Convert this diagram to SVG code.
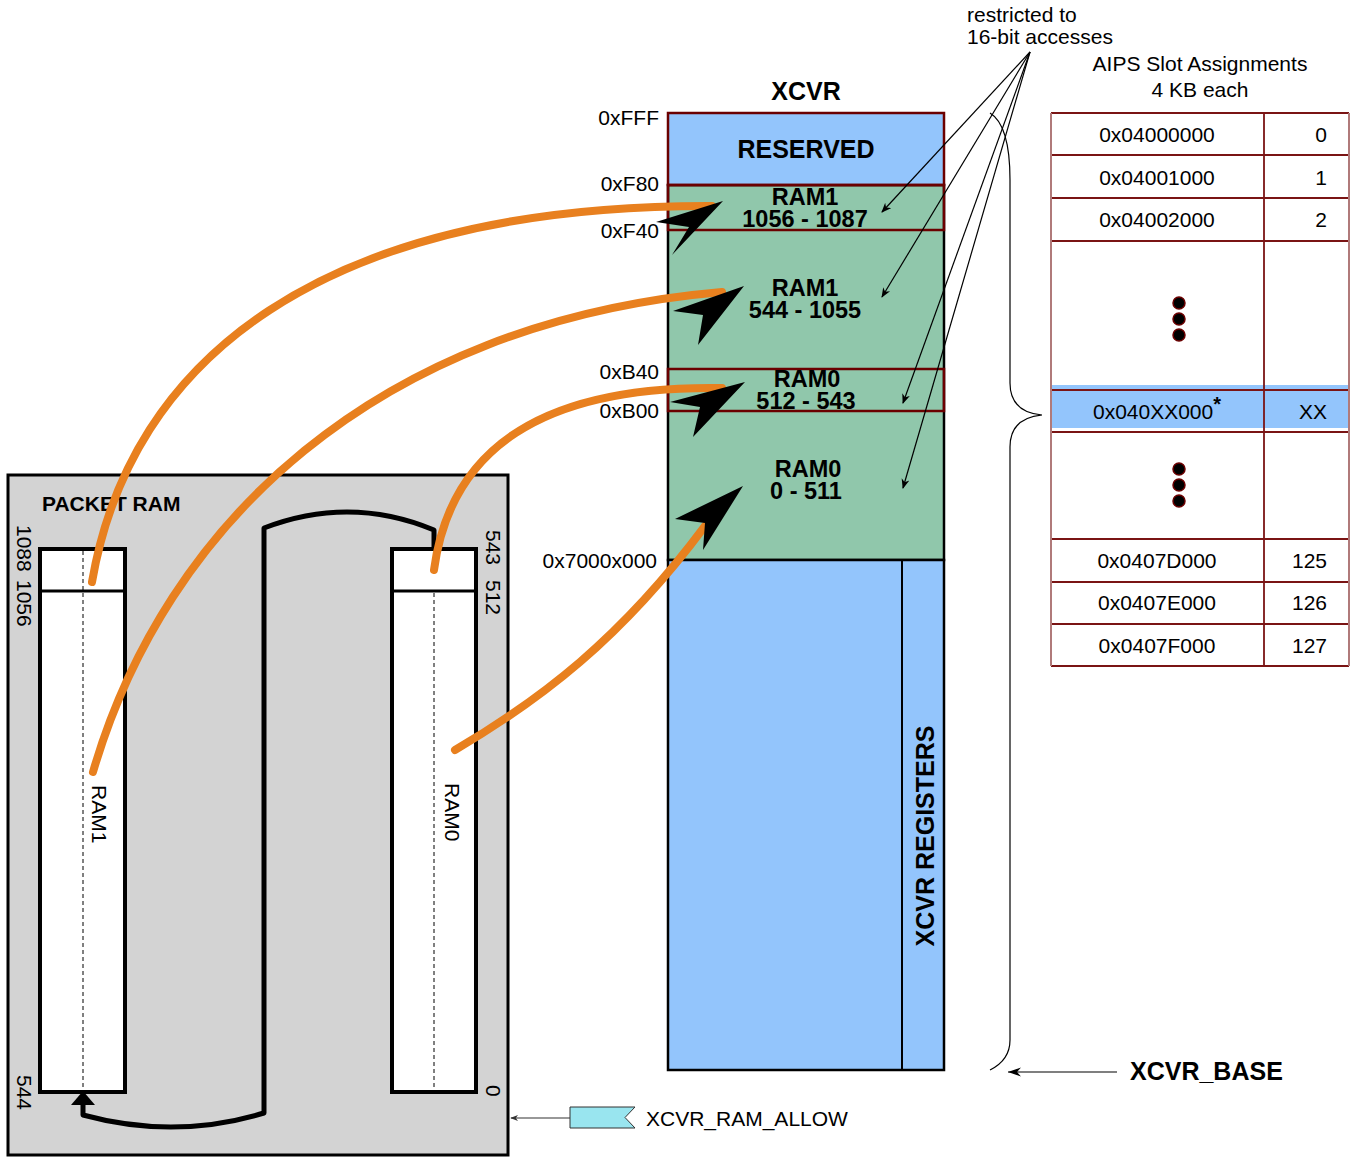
<svg xmlns="http://www.w3.org/2000/svg" width="1355" height="1157" viewBox="0 0 1355 1157">
<defs>
<style>
text{font-family:"Liberation Sans",Arial,sans-serif;fill:#000}
.r{font-size:21px}
.b{font-size:25px;font-weight:bold}
.bm{font-size:23.5px;font-weight:bold;text-anchor:middle}
.e{text-anchor:end}
.m{text-anchor:middle}
.orange{fill:none;stroke:#e8801f;stroke-width:8;stroke-linecap:round}
.thin{fill:none;stroke:#000;stroke-width:1.2}
.dr{fill:none;stroke:#6b0000;stroke-width:2.5}
.tl{stroke:#7a1414;stroke-width:1.8}
.dart{fill:#000}
</style>
<marker id="sa" viewBox="0 0 10 10" refX="9" refY="5" markerWidth="10" markerHeight="10" markerUnits="userSpaceOnUse" orient="auto">
<path d="M0,1 L10,5 L0,9 L3,5 Z" fill="#000"/>
</marker>
<marker id="ba" viewBox="0 0 14 10" refX="13" refY="5" markerWidth="14" markerHeight="10" markerUnits="userSpaceOnUse" orient="auto">
<path d="M0,0.5 L13,5 L0,9.5 L4,5 Z" fill="#000"/>
</marker>
<marker id="ga" viewBox="0 0 10 10" refX="9" refY="5" markerWidth="8" markerHeight="8" markerUnits="userSpaceOnUse" orient="auto">
<path d="M0,1 L10,5 L0,9 L3,5 Z" fill="#333"/>
</marker>
</defs>

<g id="packet-ram">
<rect x="8" y="475" width="500" height="680" fill="#d3d3d3" stroke="#000" stroke-width="3"/>
<text x="42" y="511" style="font-size:21px;font-weight:bold">PACKET RAM</text>
<rect x="40" y="549" width="85" height="543" fill="#fff" stroke="#000" stroke-width="4"/>
<line x1="40" y1="591" x2="125" y2="591" stroke="#000" stroke-width="3"/>
<line x1="83" y1="551" x2="83" y2="1090" stroke="#000" stroke-width="1" stroke-dasharray="4,3"/>
<rect x="392" y="549" width="84" height="543" fill="#fff" stroke="#000" stroke-width="4"/>
<line x1="392" y1="591" x2="476" y2="591" stroke="#000" stroke-width="3"/>
<line x1="434" y1="593" x2="434" y2="1090" stroke="#000" stroke-width="1" stroke-dasharray="4,3"/>
<text class="r" transform="translate(17,525) rotate(90)">1088</text>
<text class="r" transform="translate(17,580) rotate(90)">1056</text>
<text class="r" transform="translate(17,1075) rotate(90)">544</text>
<text class="r" transform="translate(486,530) rotate(90)">543</text>
<text class="r" transform="translate(486,580) rotate(90)">512</text>
<text class="r" transform="translate(486,1085) rotate(90)">0</text>
<text class="r" transform="translate(92,785) rotate(90)">RAM1</text>
<text class="r" transform="translate(445,783) rotate(90)">RAM0</text>
<path d="M434,549 L434,530 Q350,495 264,528 L264,1113 Q175,1140 83,1115 L83,1104" fill="none" stroke="#000" stroke-width="5" stroke-linejoin="round"/>
<path d="M83,1091 L95,1105 L71,1105 Z" fill="#000"/>
</g>

<g id="xcvr">
<text x="806" y="100" class="b m">XCVR</text>
<rect x="668" y="185" width="276" height="375" fill="#90c7ab" stroke="#000" stroke-width="2.5"/>
<rect x="668" y="560" width="276" height="510" fill="#93c5fc" stroke="#000" stroke-width="2.5"/>
<line x1="902" y1="560" x2="902" y2="1070" stroke="#000" stroke-width="2"/>
<rect x="668" y="113" width="276" height="72" fill="#93c5fc" stroke="#6b0000" stroke-width="2.5"/>
<rect x="668" y="185" width="276" height="45" class="dr"/>
<rect x="668" y="369" width="276" height="42" class="dr"/>
<text x="806" y="158" class="b m">RESERVED</text>
<text x="805" y="205" class="bm">RAM1</text>
<text x="805" y="227" class="bm">1056 - 1087</text>
<text x="805" y="296" class="bm">RAM1</text>
<text x="805" y="318" class="bm">544 - 1055</text>
<text x="807" y="387" class="bm">RAM0</text>
<text x="806" y="409" class="bm">512 - 543</text>
<text x="808" y="477" class="bm">RAM0</text>
<text x="806" y="499" class="bm">0 - 511</text>
<text class="b m" transform="translate(934,836) rotate(-90)">XCVR REGISTERS</text>
<text x="659" y="125" class="r e">0xFFF</text>
<text x="659" y="191" class="r e">0xF80</text>
<text x="659" y="238" class="r e">0xF40</text>
<text x="659" y="379" class="r e">0xB40</text>
<text x="659" y="418" class="r e">0xB00</text>
<text x="657" y="568" class="r e">0x7000x000</text>
</g>

<g id="aips-table">
<text x="1200" y="71" class="r m">AIPS Slot Assignments</text>
<text x="1200" y="97" class="r m">4 KB each</text>
<rect x="1051" y="385" width="298" height="43" fill="#93c5fc"/>
<g class="tl">
<line x1="1051" y1="113" x2="1349" y2="113"/>
<line x1="1051" y1="155" x2="1349" y2="155"/>
<line x1="1051" y1="198" x2="1349" y2="198"/>
<line x1="1051" y1="241" x2="1349" y2="241"/>
<line x1="1051" y1="390" x2="1349" y2="390"/>
<line x1="1051" y1="432" x2="1349" y2="432"/>
<line x1="1051" y1="539" x2="1349" y2="539"/>
<line x1="1051" y1="582" x2="1349" y2="582"/>
<line x1="1051" y1="624" x2="1349" y2="624"/>
<line x1="1051" y1="666" x2="1349" y2="666"/>
<line x1="1264" y1="113" x2="1264" y2="666"/>
</g>
<line x1="1051" y1="113" x2="1051" y2="666" stroke="#b07a7a" stroke-width="2"/>
<line x1="1349" y1="113" x2="1349" y2="666" stroke="#b07a7a" stroke-width="2"/>
<text x="1157" y="142" class="r m">0x04000000</text>
<text x="1157" y="185" class="r m">0x04001000</text>
<text x="1157" y="227" class="r m">0x04002000</text>
<text x="1157" y="419" class="r m">0x040XX000<tspan dy="-8" style="font-size:20px;font-weight:bold">*</tspan></text>
<text x="1157" y="568" class="r m">0x0407D000</text>
<text x="1157" y="610" class="r m">0x0407E000</text>
<text x="1157" y="653" class="r m">0x0407F000</text>
<text x="1327" y="142" class="r e">0</text>
<text x="1327" y="185" class="r e">1</text>
<text x="1327" y="227" class="r e">2</text>
<text x="1327" y="419" class="r e">XX</text>
<text x="1327" y="568" class="r e">125</text>
<text x="1327" y="610" class="r e">126</text>
<text x="1327" y="653" class="r e">127</text>
<g fill="#000" stroke="#6b0000" stroke-width="1.5">
<circle cx="1179" cy="303" r="6"/>
<circle cx="1179" cy="319" r="6"/>
<circle cx="1179" cy="335" r="6"/>
<circle cx="1179" cy="469" r="6"/>
<circle cx="1179" cy="485" r="6"/>
<circle cx="1179" cy="501" r="6"/>
</g>
</g>

<g id="labels">
<text x="967" y="22" class="r">restricted to</text>
<text x="967" y="44" class="r">16-bit accesses</text>
<text x="1130" y="1080" class="b">XCVR_BASE</text>
<path d="M570,1107 L635,1107 L625,1117.5 L635,1128 L570,1128 Z" fill="#99e5ef" stroke="#333" stroke-width="1"/>
<text x="646" y="1126" class="r">XCVR_RAM_ALLOW</text>
</g>

<g id="connectors">
<path class="orange" d="M92,582 C130,360 320,205 712,206"/>
<path class="orange" d="M93,772 C165,525 375,322 722,292"/>
<path class="orange" d="M434,570 C450,450 540,385 722,388"/>
<path class="orange" d="M455,750 C540,700 620,640 705,526"/>
<path class="dart" d="M723,201 L656,222 L689,227 L672,255 Z"/>
<path class="dart" d="M744,286 L673,311 L703,315 L698,345 Z"/>
<path class="dart" d="M745,382 L670,402 L700,407 L693,437 Z"/>
<path class="dart" d="M743,486 L675,519 L705,523 L703,550 Z"/>
<line class="thin" x1="1030" y1="52" x2="882" y2="212" marker-end="url(#sa)"/>
<line class="thin" x1="1030" y1="52" x2="882" y2="297" marker-end="url(#sa)"/>
<line class="thin" x1="1030" y1="52" x2="903" y2="403" marker-end="url(#sa)"/>
<line class="thin" x1="1030" y1="52" x2="903" y2="488" marker-end="url(#sa)"/>
<path class="thin" stroke-width="1.6" d="M990,113 Q1010,125 1010,180 L1010,383 Q1010,412 1042,415 Q1010,418 1010,447 L1010,1040 Q1010,1060 990,1070"/>
<line class="thin" stroke-width="1.5" x1="1117" y1="1072" x2="1008" y2="1072" marker-end="url(#ba)"/>
<line x1="570" y1="1118" x2="511" y2="1118" stroke="#333" stroke-width="1.2" marker-end="url(#ga)"/>
</g>
</svg>
